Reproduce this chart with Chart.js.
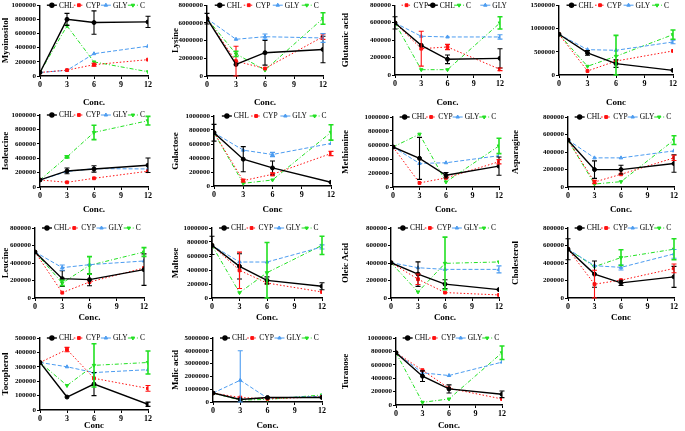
<!DOCTYPE html>
<html>
<head>
<meta charset="utf-8">
<script src="https://cdn.jsdelivr.net/npm/chart.js@4.4.0/dist/chart.umd.min.js"></script>
<style>
  body { margin: 0; background: #fff; width: 685px; height: 431px; position: relative; overflow: hidden; }
  canvas { position: absolute; }
</style>
</head>
<body>
<script>
// concentrations on the x axis
const concs = [0, 3, 6, 12];
const xTicks = [0, 3, 6, 9, 12];
const seriesNames = ["CHL", "CYP", "GLY", "C"];

const panelTitles = ["Myoinositol", "Lysine", "Glutamic acid", "", "Isoleucine", "Galactose", "Methionine",
  "Asparagine", "Leucine", "Maltose", "Oleic Acid", "Cholesterol", "Tocopherol", "Malic acid", "Turanose"];
const xTitles = ["Conc.", "Conc.", "Conc.", "Conc", "Conc.", "Conc", "Conc.", "Conc.", "Conc.", "Conc.",
  "Conc.", "Conc", "Conc", "Conc.", "Conc."];
const yMaxes = [1000000, 8000000, 800000, 1500000, 1000000, 1000000, 1000000, 800000, 800000, 1000000,
  800000, 800000, 500000, 5000000, 1000000];
const ySteps = [200000, 2000000, 200000, 500000, 200000, 200000, 200000, 200000, 200000, 200000,
  200000, 200000, 100000, 1000000, 200000];

// legend order per panel (index into seriesNames)
const legendOrders = [[0,1,2,3],[0,1,2,3],[1,0,3,2],[0,1,2,3],[0,1,2,3],[0,1,2,3],[0,1,2,3],[0,1,2,3],
  [0,1,2,3],[0,1,2,3],[0,1,2,3],[0,1,2,3],[0,1,2,3],[0,1,2,3],[0,1,2,3]];

// mean values, one row per panel, at concs 0,3,6,12
const chlValues = [
  [50000, 800000, 755000, 764000],
  [6480000, 1300000, 2630000, 3000000],
  [597000, 340000, 180000, 191000],
  [875000, 474000, 244000, 100000],
  [98000, 223000, 251000, 302000],
  [761000, 383000, 258000, 53000],
  [572000, 409000, 168000, 298000],
  [536000, 199000, 199000, 268000],
  [526000, 221000, 210000, 324000],
  [752000, 452000, 252000, 167000],
  [404000, 273000, 158000, 96000],
  [558000, 273000, 173000, 242000],
  [330000, 90000, 180000, 40000],
  [700000, 200000, 350000, 350000],
  [780000, 430000, 240000, 160000]
];
const cypValues = [
  [50000, 83000, 160000, 231000],
  [6480000, 1670000, 850000, 4440000],
  [597000, 302000, 321000, 65000],
  [875000, 86000, 300000, 517000],
  [98000, 65000, 121000, 219000],
  [761000, 77000, 167000, 464000],
  [572000, 58000, 130000, 361000],
  [536000, 57000, 145000, 333000],
  [526000, 61000, 183000, 343000],
  [752000, 395000, 214000, 86000],
  [404000, 215000, 62000, 35000],
  [558000, 158000, 204000, 338000],
  [330000, 420000, 220000, 150000],
  [700000, 350000, 250000, 400000],
  [780000, 520000, 250000, 90000]
];
const glyValues = [
  [50000, 80000, 315000, 421000],
  [6480000, 4150000, 4440000, 4300000],
  [597000, 444000, 436000, 436000],
  [875000, 545000, 531000, 710000],
  [98000, 215000, 255000, 251000],
  [761000, 512000, 450000, 608000],
  [572000, 337000, 346000, 447000],
  [536000, 333000, 333000, 413000],
  [526000, 347000, 381000, 423000],
  [752000, 514000, 514000, 729000],
  [404000, 346000, 327000, 327000],
  [558000, 369000, 350000, 504000],
  [330000, 300000, 260000, 280000],
  [700000, 1700000, 300000, 450000],
  [780000, 480000, 440000, 640000]
];
const cValues = [
  [50000, 708000, 199000, 60000],
  [6480000, 2500000, 670000, 6500000],
  [597000, 61000, 61000, 597000],
  [875000, 187000, 402000, 868000],
  [98000, 419000, 758000, 921000],
  [761000, 38000, 86000, 766000],
  [572000, 755000, 72000, 587000],
  [536000, 34000, 61000, 536000],
  [526000, 171000, 373000, 526000],
  [752000, 76000, 362000, 752000],
  [404000, 69000, 396000, 412000],
  [558000, 358000, 462000, 558000],
  [330000, 170000, 310000, 330000],
  [700000, 150000, 200000, 550000],
  [780000, 40000, 90000, 780000]
];

// error bar half-lengths (0 = none drawn)
const chlErr = [
  [0, 85000, 165000, 80000],
  [600000, 0, 1400000, 1500000],
  [70000, 0, 50000, 110000],
  [0, 50000, 80000, 0],
  [0, 40000, 45000, 100000],
  [120000, 180000, 100000, 0],
  [0, 300000, 40000, 130000],
  [0, 100000, 50000, 100000],
  [0, 90000, 70000, 180000],
  [130000, 180000, 50000, 50000],
  [0, 140000, 50000, 0],
  [120000, 150000, 30000, 120000],
  [0, 0, 80000, 15000],
  [0, 0, 0, 0],
  [0, 80000, 60000, 50000]
];
const cypErr = [
  [0, 0, 20000, 0],
  [0, 1700000, 0, 300000],
  [0, 200000, 30000, 15000],
  [0, 0, 0, 0],
  [0, 0, 0, 0],
  [0, 20000, 20000, 30000],
  [0, 0, 0, 30000],
  [0, 20000, 0, 30000],
  [0, 0, 0, 0],
  [0, 260000, 0, 0],
  [0, 60000, 0, 0],
  [0, 160000, 0, 50000],
  [0, 15000, 0, 20000],
  [0, 0, 0, 0],
  [0, 0, 0, 0]
];
const glyErr = [
  [0, 0, 0, 0],
  [0, 0, 300000, 500000],
  [0, 0, 0, 25000],
  [0, 0, 0, 40000],
  [0, 0, 0, 0],
  [0, 0, 30000, 0],
  [0, 0, 0, 0],
  [0, 0, 0, 0],
  [0, 30000, 0, 0],
  [0, 0, 0, 30000],
  [0, 0, 0, 40000],
  [0, 0, 30000, 50000],
  [0, 0, 0, 0],
  [0, 2300000, 0, 0],
  [0, 0, 0, 0]
];
const cErr = [
  [0, 0, 0, 0],
  [0, 300000, 0, 650000],
  [0, 0, 0, 70000],
  [0, 0, 450000, 100000],
  [0, 15000, 100000, 60000],
  [0, 0, 0, 110000],
  [0, 0, 0, 110000],
  [0, 0, 0, 50000],
  [0, 30000, 100000, 50000],
  [0, 0, 430000, 130000],
  [0, 0, 300000, 0],
  [0, 0, 90000, 120000],
  [0, 0, 150000, 80000],
  [0, 0, 0, 0],
  [0, 0, 0, 100000]
];

// layout: page cell of each panel and its plot rectangle [left, top, right, bottom]
const cellLefts = [0, 170, 340, 510];
const cellTops = [0, 107, 215, 323];
const plotBoxes = [
  [40, 4, 148, 76], [207, 4, 323, 76], [395, 5, 500, 75], [559, 5, 673, 75],
  [40, 115, 148, 187], [214, 116, 331, 186], [393, 117, 499, 187], [568, 117, 674, 187],
  [35, 228, 144, 298], [212, 228, 322, 298], [391, 228, 499, 298], [568, 228, 674, 298],
  [40, 338, 148, 410], [213, 338, 322, 402], [396, 338, 502, 405]
];

const styles = [
  { color: "#000000", dash: [], width: 1.4, point: "circle", rot: 0 },
  { color: "#ff1010", dash: [1.5, 2], width: 1, point: "rect", rot: 0 },
  { color: "#4c9cf0", dash: [4, 2], width: 1, point: "triangle", rot: 0 },
  { color: "#22e022", dash: [4, 2, 1, 2], width: 1, point: "triangle", rot: 180 }
];
const SERIF = "'Liberation Serif', 'DejaVu Serif', serif";

// error bars drawn through the scales
const errorBars = {
  id: "errorBars",
  afterDatasetsDraw(chart) {
    const ctx = chart.ctx;
    const ys = chart.scales.y, xs = chart.scales.x;
    chart.data.datasets.forEach(ds => {
      ctx.save();
      ctx.strokeStyle = ds.borderColor;
      ctx.lineWidth = ds.errWidth;
      ds.data.forEach((p, i) => {
        const e = ds.err[i];
        if (!e) return;
        const px = xs.getPixelForValue(p.x);
        const top = ys.getPixelForValue(p.y + e);
        const bot = ys.getPixelForValue(Math.max(p.y - e, 0));
        ctx.beginPath();
        ctx.moveTo(px, top); ctx.lineTo(px, bot);
        ctx.moveTo(px - 2.5, top); ctx.lineTo(px + 2.5, top);
        ctx.moveTo(px - 2.5, bot); ctx.lineTo(px + 2.5, bot);
        ctx.stroke();
      });
      ctx.restore();
    });
  }
};

// line + marker legend sitting on the top of the plot
const lineLegend = {
  id: "lineLegend",
  afterDraw(chart, args, opts) {
    const ctx = chart.ctx;
    const a = chart.chartArea;
    const w = a.right - a.left;
    const y = a.top;
    opts.order.forEach((si, k) => {
      const ds = chart.data.datasets[si];
      const mx = a.left + 0.11 * w + k * w / 4;
      ctx.save();
      ctx.strokeStyle = ds.borderColor;
      ctx.lineWidth = ds.borderWidth;
      ctx.setLineDash(ds.borderDash);
      ctx.beginPath();
      ctx.moveTo(mx - 5, y); ctx.lineTo(mx + 5, y);
      ctx.stroke();
      ctx.setLineDash([]);
      ctx.fillStyle = ds.borderColor;
      Chart.helpers.drawPoint(ctx, { pointStyle: ds.pointStyle, rotation: ds.pointRotation, radius: 2, borderWidth: 1 }, mx, y);
      ctx.fillStyle = "#000";
      ctx.font = "7.5px " + SERIF;
      ctx.textBaseline = "middle";
      ctx.fillText(seriesNames[si], mx + 7, y + 0.5);
      ctx.restore();
    });
  }
};

const allValues = [chlValues, cypValues, glyValues, cValues];
const allErr = [chlErr, cypErr, glyErr, cErr];

panelTitles.forEach((title, p) => {
  const col = p % 4, row = Math.floor(p / 4);
  const cl = cellLefts[col], ct = cellTops[row];
  const cw = col === 3 ? 175 : 170, ch = 108;
  const box = plotBoxes[p];

  const canvas = document.createElement("canvas");
  canvas.width = cw; canvas.height = ch;
  canvas.style.left = cl + "px"; canvas.style.top = ct + "px";
  canvas.style.width = cw + "px"; canvas.style.height = ch + "px";
  document.body.appendChild(canvas);

  const datasets = seriesNames.map((name, s) => ({
    label: name,
    data: concs.map((c, i) => ({ x: c, y: allValues[s][p][i] })),
    err: allErr[s][p],
    borderColor: styles[s].color,
    backgroundColor: styles[s].color,
    borderWidth: styles[s].width,
    borderDash: styles[s].dash,
    errWidth: s === 3 ? 1.6 : 1.1,
    pointStyle: styles[s].point,
    pointRotation: styles[s].rot,
    pointRadius: 2,
    pointBorderWidth: 1,
    tension: 0,
    order: s === 0 ? 0 : 1
  }));

  new Chart(canvas.getContext("2d"), {
    type: "line",
    data: { datasets },
    plugins: [errorBars, lineLegend],
    options: {
      responsive: false,
      animation: false,
      devicePixelRatio: 1,
      layout: { padding: { top: box[1] - ct, right: cl + cw - box[2], left: 0, bottom: 0 } },
      plugins: {
        legend: { display: false },
        tooltip: { enabled: false },
        lineLegend: { order: legendOrders[p] }
      },
      scales: {
        x: {
          type: "linear", min: 0, max: 12,
          afterBuildTicks: s => { s.ticks = xTicks.map(v => ({ value: v })); },
          ticks: { color: "#000", font: { family: SERIF, size: 8, weight: "bold" }, padding: 1, maxRotation: 0 },
          grid: { display: true, drawOnChartArea: false, drawTicks: true, tickLength: 3, color: "#000" },
          border: { color: "#000", width: 1.4 },
          title: { display: true, text: xTitles[p], color: "#000", font: { family: SERIF, size: 9, weight: "bold" }, padding: 0 },
          afterFit: s => { s.height = ct + ch - box[3]; }
        },
        y: {
          min: 0, max: yMaxes[p],
          ticks: { stepSize: ySteps[p], color: "#000", font: { family: SERIF, size: 7, weight: "bold" }, padding: 1,
            callback: v => String(v) },
          grid: { display: true, drawOnChartArea: false, drawTicks: true, tickLength: 3, color: "#000" },
          border: { color: "#000", width: 1.4 },
          title: { display: title !== "", text: title, color: "#000", font: { family: SERIF, size: 9, weight: "bold" }, padding: 0 },
          afterFit: s => { s.width = box[0] - cl; }
        }
      }
    }
  });
});
</script>
</body>
</html>
